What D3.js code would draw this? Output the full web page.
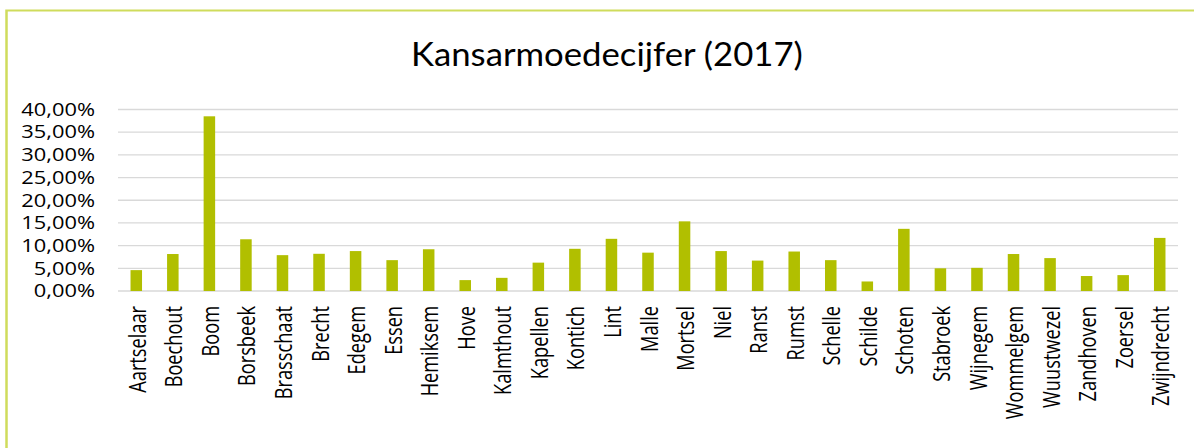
<!DOCTYPE html>
<html>
<head>
<meta charset="utf-8">
<script src="https://cdn.jsdelivr.net/npm/d3@7"></script>
<style>
  html, body { margin: 0; padding: 0; background: #fff; overflow: hidden; }
  text { font-family: "Open Sans", sans-serif; fill: #000; }
  .title { font-family: Lato, "Open Sans", sans-serif; }
</style>
</head>
<body>
<svg id="chart" width="1194" height="448"></svg>
<script>
// data
const gemeenten = ["Aartselaar", "Boechout", "Boom", "Borsbeek", "Brasschaat", "Brecht", "Edegem", "Essen",
  "Hemiksem", "Hove", "Kalmthout", "Kapellen", "Kontich", "Lint", "Malle", "Mortsel", "Niel", "Ranst",
  "Rumst", "Schelle", "Schilde", "Schoten", "Stabroek", "Wijnegem", "Wommelgem", "Wuustwezel",
  "Zandhoven", "Zoersel", "Zwijndrecht"];
const kansarmoede = [4.6, 8.15, 38.5, 11.4, 7.9, 8.2, 8.8, 6.8, 9.2, 2.4, 2.9, 6.25, 9.3, 11.5, 8.45,
  15.35, 8.8, 6.7, 8.7, 6.8, 2.1, 13.7, 5.0, 5.1, 8.15, 7.25, 3.3, 3.5, 11.7];
const yTicks = [0, 5, 10, 15, 20, 25, 30, 35, 40];
const title = "Kansarmoedecijfer (2017)";

// the original picture is stretched horizontally, so stretch the whole svg the same way
const sx = 1.25;
const W = 1194, H = 448;
const X = (px) => px / sx;

const svg = d3.select("#chart")
  .attr("viewBox", `0 0 ${W / sx} ${H}`)
  .attr("preserveAspectRatio", "none");

// outer border
svg.append("rect")
  .attr("x", X(6.5))
  .attr("y", 10.5)
  .attr("width", X(1200))
  .attr("height", 460)
  .attr("fill", "#fff")
  .attr("stroke", "#cfdc5c")
  .attr("stroke-width", 2);

// title, scaled so it spans the same width as in the original
const titleText = svg.append("text")
  .attr("class", "title")
  .attr("text-anchor", "middle")
  .attr("font-size", 32)
  .text(title);
const titleScale = X(392) / titleText.node().getComputedTextLength();
titleText.attr("transform", `translate(${X(607)},66) scale(${titleScale},1)`);

// scales
const x = d3.scaleBand()
  .domain(gemeenten)
  .range([X(118), X(1178)])
  .paddingInner(0.685)
  .paddingOuter(0.3425);

const y = d3.scaleLinear()
  .domain([0, 40])
  .range([291, 109.5]);

const fmt = (v) => d3.format(".2f")(v).replace(".", ",") + "%";

// grid lines
svg.append("g")
  .selectAll("line")
  .data(yTicks)
  .enter().append("line")
    .attr("x1", X(118))
    .attr("x2", X(1178))
    .attr("y1", (d) => y(d))
    .attr("y2", (d) => y(d))
    .attr("stroke", "#d9d9d9")
    .attr("stroke-width", 1.3);

// y axis labels
svg.append("g")
  .selectAll("text")
  .data(yTicks)
  .enter().append("text")
    .attr("x", X(95))
    .attr("y", (d) => y(d))
    .attr("dy", "0.36em")
    .attr("text-anchor", "end")
    .attr("font-size", 17.5)
    .text(fmt);

// bars
svg.append("g")
  .selectAll("rect")
  .data(gemeenten)
  .enter().append("rect")
    .attr("x", (d) => x(d))
    .attr("width", x.bandwidth())
    .attr("y", (d, i) => y(kansarmoede[i]))
    .attr("height", (d, i) => y(0) - y(kansarmoede[i]))
    .attr("fill", "#b1bf00");

// category labels, rotated
svg.append("g")
  .selectAll("text")
  .data(gemeenten)
  .enter().append("text")
    .attr("transform", (d) => `translate(${x(d) + x.bandwidth() / 2},306) rotate(-90)`)
    .attr("dy", "0.42em")
    .attr("text-anchor", "end")
    .attr("font-size", 18.2)
    .text((d) => d);
</script>
</body>
</html>
